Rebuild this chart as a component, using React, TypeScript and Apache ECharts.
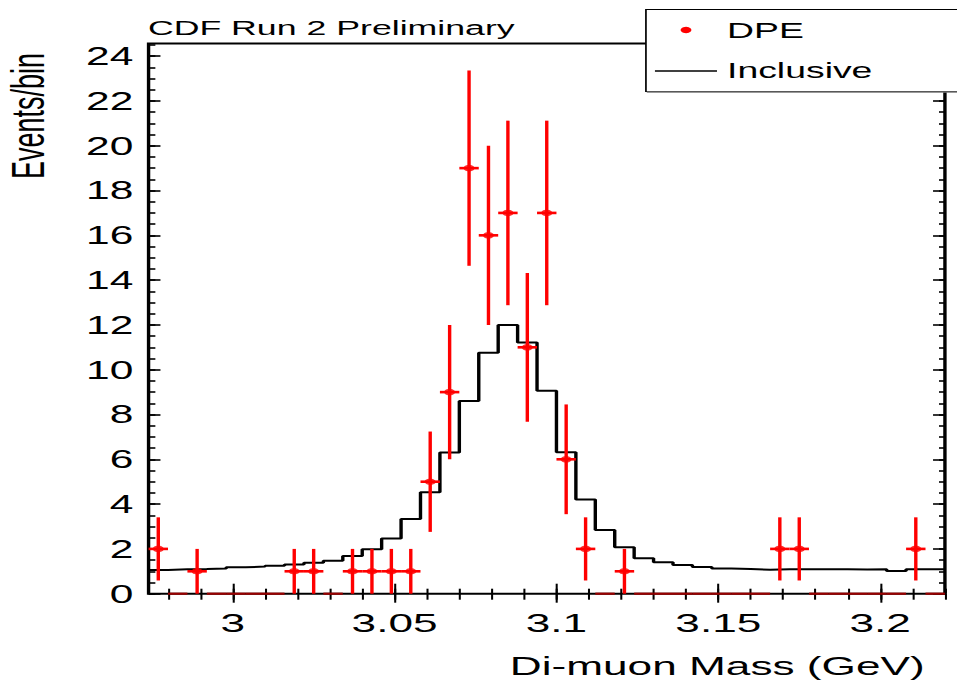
import React, { useEffect, useRef } from "react";
import * as echarts from "echarts";

// ---- binning ----
const BIN_START = 2.974;
const BIN_WIDTH = 0.006;
const X_MIN = 2.974;
const X_MAX = 3.22;
const Y_MIN = 0;
const Y_MAX = 24.56;

// ---- data (one entry per bin, 41 bins) ----
const DPE_COUNTS = [2, 0, 1, 0, 0, 0, 0, 1, 1, 0, 1, 1, 1, 1, 5, 9, 19, 16, 17, 11, 17, 6, 2, 0, 1, 0, 0, 0, 0, 0, 0, 0, 2, 2, 0, 0, 0, 0, 0, 2, 0];
const DPE_ERRORS = [1.41, 0, 1, 0, 0, 0, 0, 1, 1, 0, 1, 1, 1, 1, 2.24, 3, 4.36, 4, 4.12, 3.32, 4.12, 2.45, 1.41, 0, 1, 0, 0, 0, 0, 0, 0, 0, 1.41, 1.41, 0, 0, 0, 0, 0, 1.41, 0];
const INCLUSIVE = [1.06, 1.09, 1.1, 1.13, 1.18, 1.21, 1.25, 1.3, 1.38, 1.47, 1.68, 1.98, 2.47, 3.33, 4.53, 6.3, 8.6, 10.76, 12.0, 11.22, 9.06, 6.32, 4.21, 2.84, 2.07, 1.58, 1.4, 1.28, 1.19, 1.13, 1.1, 1.07, 1.09, 1.09, 1.09, 1.09, 1.08, 1.09, 1.01, 1.09, 1.09];

// ---- ticks ----
const X_TICKS = [3, 3.05, 3.1, 3.15, 3.2];
const Y_TICKS = [0, 2, 4, 6, 8, 10, 12, 14, 16, 18, 20, 22, 24];
const X_MINOR: number[] = [];
for (let i = 298; i <= 322; i++) X_MINOR.push(Math.round(i) / 100);
const Y_MINOR: number[] = [];
for (let i = 0; i <= 49; i++) Y_MINOR.push(i / 2);

// ---- texts ----
const TITLE = "CDF Run 2 Preliminary";
const X_TITLE = "Di-muon Mass (GeV)";
const Y_TITLE = "Events/bin";
const LEGEND_DPE = "DPE";
const LEGEND_INCL = "Inclusive";

const FONT = "'Liberation Sans', Arial, Helvetica, sans-serif";
const W = 563;
const H = 684;
const SX = 957 / W;

export default function App() {
  const ref = useRef<HTMLDivElement>(null);

  useEffect(() => {
    if (!ref.current) return;
    const chart = echarts.init(ref.current, undefined, { renderer: "svg", width: W, height: H });

    const centers = DPE_COUNTS.map((_, k) => BIN_START + BIN_WIDTH * (k + 0.5));
    const edges = INCLUSIVE.map((_, k) => BIN_START + BIN_WIDTH * k);
    const inclData = INCLUSIVE.map((v, k) => [edges[k], v]);
    inclData.push([BIN_START + BIN_WIDTH * INCLUSIVE.length, INCLUSIVE[INCLUSIVE.length - 1]]);
    const dpeBars = DPE_COUNTS.map((v, k) => [centers[k], v, DPE_ERRORS[k]]);
    const dpePoints = DPE_COUNTS.map((v, k) => [centers[k], v]).filter((d) => d[1] > 0);

    const xBase = {
      type: "value",
      min: X_MIN,
      max: X_MAX,
      splitLine: { show: false },
      axisLine: { show: false },
    };
    const yBase = {
      type: "value",
      min: Y_MIN,
      max: Y_MAX,
      splitLine: { show: false },
      axisLine: { show: false },
    };
    const tick = (vals: number[], len: number, w: number) => ({
      show: true,
      inside: true,
      length: len,
      customValues: vals,
      lineStyle: { color: "#000", width: w },
    });

    chart.setOption({
      animation: false,
      backgroundColor: "#fff",
      grid: {
        left: 87.4,
        right: 7.1,
        top: 43.6,
        bottom: 90.3,
        show: true,
        borderColor: "#000",
        borderWidth: 2,
        backgroundColor: "transparent",
      },
      xAxis: [
        {
          ...xBase,
          position: "bottom",
          axisTick: tick(X_TICKS, 10, 1.2),
          axisLabel: {
            show: true,
            customValues: X_TICKS,
            formatter: (v: number) => String(v),
            fontSize: 26,
            fontFamily: FONT,
            color: "#000",
            margin: 16,
          },
        },
        { ...xBase, position: "bottom", axisTick: tick(X_MINOR, 5, 1.2), axisLabel: { show: false } },
        { ...xBase, position: "top", axisTick: tick(X_TICKS, 9, 1.2), axisLabel: { show: false } },
        { ...xBase, position: "top", axisTick: tick(X_MINOR, 6, 1.2), axisLabel: { show: false } },
      ],
      yAxis: [
        {
          ...yBase,
          position: "left",
          axisTick: tick(Y_TICKS, 7, 1.6),
          axisLabel: {
            show: true,
            customValues: Y_TICKS,
            formatter: (v: number) => String(v),
            fontSize: 25,
            fontFamily: FONT,
            color: "#000",
            margin: 9,
          },
        },
        { ...yBase, position: "left", axisTick: tick(Y_MINOR, 4, 1.6), axisLabel: { show: false } },
        { ...yBase, position: "right", axisTick: tick(Y_TICKS, 7, 1.6), axisLabel: { show: false } },
        { ...yBase, position: "right", axisTick: tick(Y_MINOR, 3.5, 1.6), axisLabel: { show: false } },
      ],
      series: [
        {
          name: LEGEND_INCL,
          type: "line",
          step: "end",
          data: inclData,
          showSymbol: false,
          symbol: "none",
          lineStyle: { color: "#000", width: 2 },
          xAxisIndex: 0,
          yAxisIndex: 0,
          z: 3,
        },
        {
          name: LEGEND_DPE + " errors",
          type: "custom",
          data: dpeBars,
          xAxisIndex: 0,
          yAxisIndex: 0,
          clip: false,
          z: 4,
          renderItem: (params: any, api: any) => {
            const c = api.value(0);
            const v = api.value(1);
            const e = api.value(2);
            const lo = api.coord([c - BIN_WIDTH / 2, v]);
            const hi = api.coord([c + BIN_WIDTH / 2, v]);
            const children: any[] = [];
            if (v === 0) {
              children.push({
                type: "line",
                shape: { x1: lo[0], y1: lo[1], x2: hi[0], y2: hi[1] },
                style: { stroke: "#990000", lineWidth: 2.2 },
              });
            } else {
              const top = api.coord([c, v + e]);
              const bot = api.coord([c, v - e]);
              children.push({
                type: "line",
                shape: { x1: lo[0], y1: lo[1], x2: hi[0], y2: hi[1] },
                style: { stroke: "#ff0000", lineWidth: 2.6 },
              });
              children.push({
                type: "line",
                shape: { x1: top[0], y1: top[1], x2: bot[0], y2: bot[1] },
                style: { stroke: "#ff0000", lineWidth: 2 },
              });
            }
            return { type: "group", children };
          },
        },
        {
          name: LEGEND_DPE,
          type: "scatter",
          data: dpePoints,
          symbol: "circle",
          symbolSize: 6.5,
          itemStyle: { color: "#ff0000" },
          xAxisIndex: 0,
          yAxisIndex: 0,
          z: 5,
        },
      ],
      graphic: [
        {
          type: "text",
          x: 87,
          y: 27.5,
          z: 100,
          style: { text: TITLE, fontSize: 21, fontFamily: FONT, fill: "#000", align: "left", verticalAlign: "middle" },
        },
        {
          type: "text",
          x: 16.5,
          y: 116,
          rotation: Math.PI / 2,
          z: 100,
          style: { text: Y_TITLE, fontSize: 27, fontFamily: FONT, fill: "#000", align: "center", verticalAlign: "middle" },
        },
        {
          type: "text",
          x: 544,
          y: 666,
          z: 100,
          style: { text: X_TITLE, fontSize: 26, fontFamily: FONT, fill: "#000", align: "right", verticalAlign: "middle" },
        },
        {
          type: "rect",
          z: 100,
          shape: { x: 380, y: 9.5, width: 200, height: 82 },
          style: { fill: "#fff", stroke: "#000", lineWidth: 1 },
        },
        {
          type: "line",
          z: 101,
          shape: { x1: 380.5, y1: 92, x2: 570, y2: 92 },
          style: { stroke: "#777", lineWidth: 1.5 },
        },
        {
          type: "circle",
          z: 101,
          shape: { cx: 403.6, cy: 30, r: 3.2 },
          style: { fill: "#ff0000" },
        },
        {
          type: "text",
          x: 427.7,
          y: 30,
          z: 101,
          style: { text: LEGEND_DPE, fontSize: 22, fontFamily: FONT, fill: "#000", align: "left", verticalAlign: "middle" },
        },
        {
          type: "line",
          z: 101,
          shape: { x1: 385.3, y1: 71, x2: 421.8, y2: 71 },
          style: { stroke: "#000", lineWidth: 1.5 },
        },
        {
          type: "text",
          x: 427.7,
          y: 70,
          z: 101,
          style: { text: LEGEND_INCL, fontSize: 22, fontFamily: FONT, fill: "#000", align: "left", verticalAlign: "middle" },
        },
      ],
    });

    return () => {
      chart.dispose();
    };
  }, []);

  return (
    <div
      style={{
        position: "absolute",
        left: 0,
        top: 0,
        width: 957,
        height: H,
        overflow: "hidden",
        background: "#fff",
      }}
    >
      <div
        ref={ref}
        style={{
          width: W,
          height: H,
          transform: `scaleX(${SX})`,
          transformOrigin: "0 0",
        }}
      />
    </div>
  );
}
